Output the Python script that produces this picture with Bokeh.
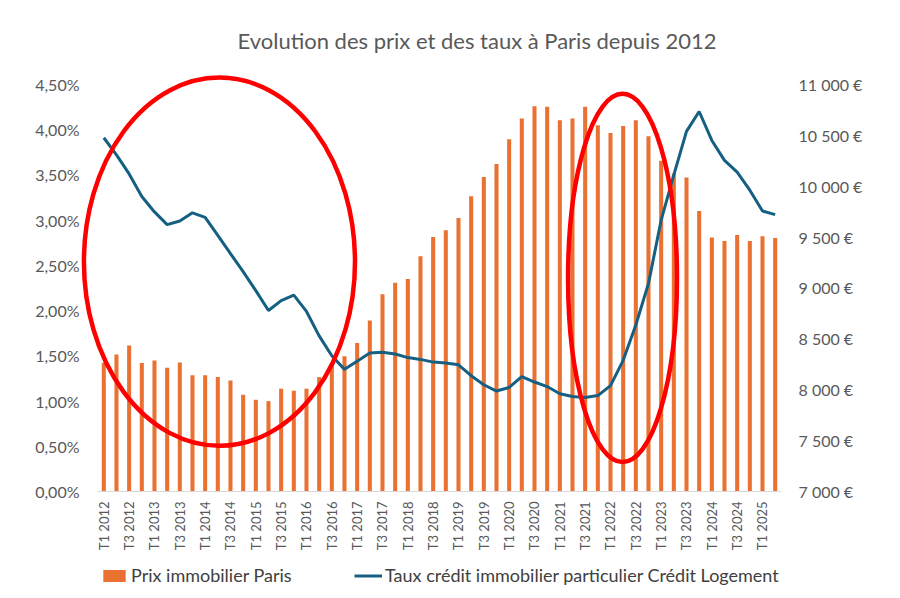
from math import pi

from bokeh.core.properties import value
from bokeh.models import (ColumnDataSource, CustomJSTickFormatter, FixedTicker, Legend,
                          LegendItem, LinearAxis, Range1d)
from bokeh.plotting import figure
from bokeh.embed import file_html
from bokeh.resources import INLINE

# quarters T1 2012 -> T2 2025
quarters = ["T{} {}".format(q, y) for y in range(2012, 2026) for q in (1, 2, 3, 4)][:54]

# prix immobilier Paris (EUR / m2)
prix = [8265, 8347, 8435, 8262, 8288, 8216, 8268, 8141, 8141, 8124,
        8091, 7951, 7901, 7888, 8010, 7990, 8010, 8124, 8240, 8328,
        8458, 8681, 8937, 9052, 9088, 9311, 9501, 9566, 9687, 9901,
        10090, 10218, 10461, 10665, 10786, 10779, 10648, 10665, 10779, 10599,
        10523, 10592, 10648, 10491, 10250, 10124, 10084, 9756, 9495, 9461,
        9520, 9461, 9507, 9491]

# taux credit immobilier (%)
taux = [3.91, 3.72, 3.51, 3.26, 3.09, 2.95, 2.99, 3.08, 3.03, 2.83,
        2.63, 2.43, 2.22, 2.00, 2.11, 2.17, 1.99, 1.72, 1.50, 1.35,
        1.44, 1.53, 1.54, 1.52, 1.48, 1.46, 1.43, 1.42, 1.40, 1.28,
        1.18, 1.11, 1.15, 1.27, 1.21, 1.16, 1.08, 1.05, 1.04, 1.06,
        1.17, 1.45, 1.84, 2.30, 3.00, 3.50, 3.98, 4.20, 3.88, 3.66,
        3.53, 3.33, 3.10, 3.06]

taux_ticks = [0, 0.5, 1, 1.5, 2, 2.5, 3, 3.5, 4, 4.5]
prix_ticks = [7000, 7500, 8000, 8500, 9000, 9500, 10000, 10500, 11000]

# red circles drawn on the chart (centre / size in data units)
circle_x = [9.13, 40.95]
circle_y = [2.54, 2.36]
circle_w = [21.4, 8.6]
circle_h = [4.07, 4.07]

ORANGE = "#E97132"
BLUE = "#156082"
GREY = "#595959"
FONT = "Lato"

# the frame goes below the zero line so that the quarter labels and the legend fit inside it
y_start, y_end = -1.1385, 4.62
to_prix = (prix_ticks[-1] - prix_ticks[0]) / (taux_ticks[-1] - taux_ticks[0])

source = ColumnDataSource(data=dict(x=list(range(len(quarters))), prix=prix, taux=taux))

p = figure(frame_width=701, frame_height=521,
           min_border_left=80, min_border_right=111, min_border_top=73, min_border_bottom=0,
           x_range=Range1d(-1.84, 53.5), y_range=Range1d(y_start, y_end),
           x_axis_location=None,
           output_backend="svg", toolbar_location=None)
p.extra_y_ranges = {"prix": Range1d(prix_ticks[0] + y_start * to_prix, prix_ticks[0] + y_end * to_prix)}
p.outline_line_color = None
p.border_fill_color = "white"
p.xgrid.visible = False
p.ygrid.visible = False

p.title.text = "Evolution des prix et des taux à Paris depuis 2012"
p.title.align = "left"
p.title.offset = 157
p.title.standoff = 40
p.title.text_font = FONT
p.title.text_font_size = "22px"
p.title.text_font_style = "normal"
p.title.text_color = GREY

bars = p.vbar(x="x", top="prix", bottom=prix_ticks[0], width=0.32, source=source,
              y_range_name="prix", fill_color=ORANGE, line_color=None)
line = p.line(x="x", y="taux", source=source, line_width=3, line_color=BLUE)

# baseline of the category axis
p.segment(x0=[-0.5], y0=[0], x1=[len(quarters) - 0.5], y1=[0], line_color="#D9D9D9", line_width=1)

# category labels, one every two quarters, written upwards under the baseline
x_ticks = list(range(0, len(quarters), 2))
p.text(x=x_ticks, y=[0] * len(x_ticks), text=[quarters[i] for i in x_ticks],
       angle=pi / 2, y_offset=10, text_align="right", text_baseline="middle",
       text_font=value(FONT), text_font_size="13px", text_color=GREY)

p.ellipse(x=circle_x, y=circle_y, width=circle_w, height=circle_h,
          fill_color=None, line_color="#FF0000", line_width=4.5)

# left axis : taux
p.yaxis.ticker = FixedTicker(ticks=taux_ticks)
p.yaxis.formatter = CustomJSTickFormatter(code="return tick.toFixed(2).replace('.', ',') + '%';")
p.yaxis.axis_line_color = None
p.yaxis.major_tick_line_color = None
p.yaxis.minor_tick_line_color = None
p.yaxis.major_tick_out = 0
p.yaxis.major_label_standoff = 1
p.yaxis.major_label_text_font = FONT
p.yaxis.major_label_text_font_size = "16px"
p.yaxis.major_label_text_color = GREY

# right axis : prix
right = LinearAxis(y_range_name="prix", ticker=FixedTicker(ticks=prix_ticks),
                   formatter=CustomJSTickFormatter(
                       code="return tick.toString().replace(/\\B(?=(\\d{3})+(?!\\d))/g, ' ') + ' €';"))
right.axis_line_color = None
right.major_tick_line_color = None
right.minor_tick_line_color = None
right.major_tick_out = 0
right.major_label_standoff = 17
right.major_label_text_font = FONT
right.major_label_text_font_size = "16px"
right.major_label_text_color = GREY
p.add_layout(right, "right")

legend = Legend(items=[LegendItem(label="Prix immobilier Paris", renderers=[bars]),
                       LegendItem(label="Taux crédit immobilier particulier Crédit Logement",
                                  renderers=[line])],
                location=(20, 8), orientation="horizontal", padding=0, margin=0, spacing=0,
                glyph_width=28, glyph_height=15, label_standoff=3, label_width=223,
                label_text_font=FONT, label_text_font_size="18px", label_text_color="#404040",
                background_fill_alpha=0, border_line_color=None)
p.add_layout(legend)

open("out.html", "w").write(file_html(p, INLINE))
